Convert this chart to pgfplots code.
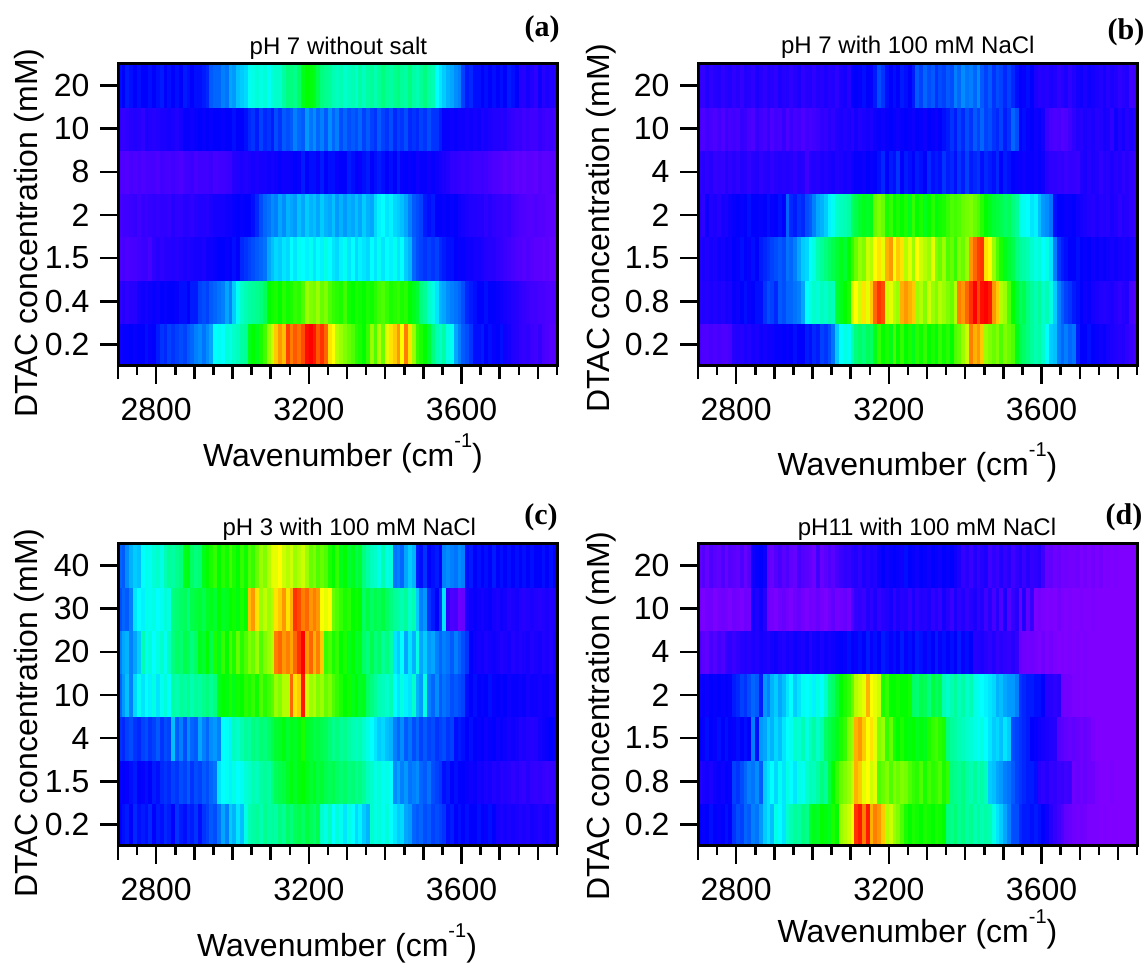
\documentclass[border=0pt]{standalone}
\usepackage{fontspec}
\usepackage{pgfplots}
\usepackage{pgfplotstable}
\pgfplotsset{compat=1.18}
\setmainfont{Liberation Sans}
\newfontfamily\tnr{Liberation Serif}

\pgfdeclareplotmark{cell}{%
  \pgfpathrectangle{\pgfpoint{-1.91pt}{-21.57pt}}{\pgfpoint{3.82pt}{43.14pt}}%
  \pgfusepathqfillstroke}

\pgfplotstableread{
wn r0 r1 r2 r3 r4 r5 r6
2705 18 13 8 9 8 13 21
2715 19 14 9 10 8 12 20
2725 19 13 8 10 7 13 22
2735 20 14 9 11 9 14 21
2745 19 14 9 12 8 15 20
2755 20 17 10 10 9 14 21
2765 20 18 11 12 8 13 20
2775 21 17 11 11 9 16 20
2785 19 18 9 12 9 15 21
2795 20 19 13 13 9 14 20
2805 22 18 14 12 8 15 21
2815 24 20 13 13 10 16 22
2825 23 19 14 13 9 16 20
2835 25 20 14 12 9 17 21
2845 24 20 15 14 10 16 20
2855 25 19 14 13 9 15 21
2865 26 21 15 13 8 17 20
2875 25 21 16 14 10 19 22
2885 27 20 15 14 10 19 21
2895 28 22 16 13 11 18 20
2905 30 22 17 14 9 19 21
2915 31 25 17 15 10 20 21
2925 29 26 16 15 10 19 22
2935 31 25 18 14 10 20 23
2945 33 27 18 16 11 19 27
2955 40 28 19 17 9 20 28
2965 41 29 20 17 10 20 28
2975 40 30 20 17 10 19 30
2985 43 33 19 18 11 20 29
2995 42 30 20 18 11 20 33
3005 44 36 21 19 14 21 32
3015 45 41 20 20 15 20 35
3025 47 44 23 19 16 20 36
3035 48 46 24 20 15 21 37
3045 58 47 25 20 16 23 41
3055 60 48 26 21 17 24 42
3065 58 49 27 23 16 22 43
3075 62 50 28 26 17 25 42
3085 65 53 29 28 17 23 43
3095 72 60 33 29 18 24 41
3105 76 61 35 31 17 22 43
3115 84 62 37 30 18 26 44
3125 88 60 36 33 19 24 44
3135 85 63 38 31 18 27 47
3145 95 61 37 34 18 26 50
3155 90 62 40 33 19 27 50
3165 93 64 38 32 20 30 49
3175 91 63 41 35 19 28 52
3185 94 66 40 33 22 27 58
3195 99 72 39 36 20 32 60
3205 100 70 41 34 21 29 59
3215 98 69 38 35 21 31 58
3225 93 72 40 33 19 28 54
3235 96 68 39 36 22 30 50
3245 92 70 42 34 20 27 49
3255 82 66 40 33 21 31 48
3265 80 64 38 35 21 28 46
3275 74 63 37 32 19 30 45
3285 72 62 39 34 20 26 46
3295 70 65 41 32 20 28 44
3305 68 61 38 34 22 26 45
3315 66 60 40 33 21 27 46
3325 63 62 37 35 20 26 44
3335 62 61 39 33 19 28 47
3345 60 60 38 36 21 25 45
3355 64 62 37 34 22 27 47
3365 72 61 40 33 20 25 48
3375 66 63 38 37 21 24 46
3385 74 65 41 39 22 27 48
3395 68 66 38 40 21 25 50
3405 78 64 40 38 20 24 48
3415 82 62 39 39 21 26 47
3425 84 63 41 37 20 23 49
3435 88 64 38 36 22 25 50
3445 80 62 40 35 19 24 48
3455 90 63 36 33 20 26 47
3465 82 60 34 30 19 23 50
3475 72 58 28 27 20 24 47
3485 64 56 26 26 18 23 46
3495 62 50 25 25 19 25 48
3505 60 48 24 22 19 24 50
3515 56 44 25 21 18 26 47
3525 50 42 24 22 19 24 46
3535 46 38 25 20 18 24 40
3545 44 34 23 20 17 22 38
3555 47 33 22 19 16 19 36
3565 42 31 21 20 15 19 34
3575 41 30 21 19 13 18 33
3585 33 29 20 20 13 19 31
3595 30 28 19 18 12 18 30
3605 27 26 19 17 11 18 25
3615 26 23 18 16 12 17 22
3625 24 22 18 15 11 18 23
3635 21 21 17 15 10 17 21
3645 21 20 17 14 10 18 21
3655 22 20 16 15 11 16 20
3665 20 21 15 13 10 17 21
3675 21 20 14 14 9 16 20
3685 19 20 14 13 8 15 21
3695 20 19 13 12 8 15 20
3705 21 18 12 12 7 14 21
3715 18 17 11 11 6 15 20
3725 17 16 10 12 7 13 22
3735 15 15 9 10 6 12 21
3745 14 14 8 9 5 11 20
3755 13 13 8 8 6 12 15
3765 12 12 7 8 5 10 14
3775 13 11 8 7 6 11 17
3785 11 10 7 7 6 10 15
3795 10 10 6 8 5 10 13
3805 12 9 6 7 7 12 18
3815 9 9 5 7 6 11 14
3825 8 8 6 6 6 10 16
3835 7 8 5 6 7 11 15
3845 7 8 5 6 7 10 15
}\tabA

\pgfplotstableread{
wn r0 r1 r2 r3 r4 r5 r6
2705 9 14 15 14 13 9 13
2715 8 15 16 13 14 8 12
2725 8 14 15 18 13 10 15
2735 9 16 17 15 14 9 13
2745 8 15 16 16 12 8 14
2755 9 16 18 14 13 10 15
2765 8 15 17 17 12 8 13
2775 8 17 19 16 15 11 14
2785 9 16 18 18 13 9 15
2795 14 19 20 19 14 10 13
2805 15 18 19 20 13 9 14
2815 14 20 21 19 15 12 12
2825 16 21 20 20 14 11 15
2835 15 19 19 21 13 9 14
2845 17 20 21 20 14 8 13
2855 16 21 20 20 15 12 16
2865 18 21 22 19 13 10 14
2875 17 24 23 20 14 9 13
2885 18 26 24 21 15 12 15
2895 18 25 25 19 13 8 14
2905 19 23 26 20 14 10 13
2915 19 27 27 21 15 9 16
2925 20 26 26 20 14 12 14
2935 19 28 29 28 15 8 15
2945 20 28 28 23 14 11 13
2955 21 29 30 22 13 9 14
2965 20 30 33 24 15 10 16
2975 20 33 36 23 14 8 13
2985 22 40 37 26 10 10 14
2995 21 42 40 27 14 9 15
3005 23 44 42 30 15 10 13
3015 22 43 46 33 14 11 15
3025 25 45 48 34 16 13 14
3035 24 44 50 36 15 12 16
3045 26 46 52 39 16 14 14
3055 29 45 54 41 17 13 15
3065 36 56 56 44 15 15 13
3075 40 58 58 45 16 16 16
3085 42 60 56 46 17 15 17
3095 41 62 60 47 16 16 14
3105 46 76 64 52 18 14 19
3115 50 80 68 54 19 17 20
3125 52 76 72 56 19 15 19
3135 50 82 70 58 18 16 21
3145 53 78 76 57 20 17 20
3155 52 84 74 58 19 16 19
3165 58 92 80 68 20 18 22
3175 64 96 82 70 21 19 26
3185 60 94 78 68 23 18 24
3195 62 76 86 62 20 19 21
3205 58 78 88 64 22 20 20
3215 66 74 80 60 21 19 21
3225 60 72 84 62 24 18 20
3235 64 86 82 60 20 19 22
3245 60 88 74 62 22 20 21
3255 62 86 78 58 21 19 20
3265 58 84 72 64 20 18 22
3275 63 72 80 60 22 20 27
3285 61 74 76 62 21 19 25
3295 64 70 74 58 20 18 28
3305 60 76 72 60 23 20 26
3315 62 72 78 63 21 19 27
3325 59 70 70 59 22 18 24
3335 64 74 68 61 21 20 26
3345 61 72 72 62 24 21 25
3355 63 70 66 64 22 22 27
3365 60 68 68 66 23 24 26
3375 66 74 64 65 21 22 30
3385 68 90 70 66 24 25 28
3395 72 88 68 68 22 23 31
3405 76 92 72 69 25 26 29
3415 90 96 88 70 22 24 30
3425 86 100 92 68 23 27 28
3435 88 94 95 66 24 25 31
3445 84 99 96 63 21 28 27
3455 72 100 82 60 23 25 25
3465 70 98 80 58 22 26 27
3475 68 88 72 56 21 24 24
3485 70 84 66 55 23 23 26
3495 66 74 62 54 20 25 25
3505 70 72 58 52 22 22 23
3515 68 66 56 53 21 24 25
3525 66 60 54 50 20 28 23
3535 58 56 50 48 19 26 21
3545 54 52 48 42 19 20 20
3555 52 54 47 41 18 21 19
3565 50 50 46 40 19 19 21
3575 48 48 44 38 19 20 20
3585 46 46 42 39 18 18 16
3595 47 48 43 35 19 19 14
3605 44 44 40 32 18 17 15
3615 40 46 42 31 14 11 14
3625 36 42 38 29 13 9 16
3635 35 36 30 21 13 8 15
3645 30 30 24 20 12 9 13
3655 28 27 22 20 13 7 14
3665 30 25 21 19 11 8 16
3675 28 24 20 19 12 10 13
3685 29 22 20 20 12 13 15
3695 22 21 21 18 11 15 17
3705 20 20 20 17 15 14 18
3715 20 18 19 16 16 16 16
3725 21 19 20 15 14 15 18
3735 20 17 18 14 16 16 17
3745 19 16 19 16 15 14 16
3755 18 15 18 14 13 15 15
3765 19 14 19 15 15 17 17
3775 17 15 18 14 14 16 14
3785 16 16 17 16 16 13 16
3795 15 14 18 15 14 18 15
3805 14 13 17 13 15 15 13
3815 15 14 16 15 13 17 14
3825 13 15 17 14 14 14 15
3835 11 9 16 13 13 16 10
3845 10 8 15 12 12 15 11
}\tabB

\pgfplotstableread{
wn r0 r1 r2 r3 r4 r5 r6
2705 20 19 24 28 30 26 28
2715 21 20 23 32 33 28 27
2725 22 19 25 35 34 27 31
2735 20 21 26 30 30 30 34
2745 23 22 24 37 33 38 36
2755 21 20 23 41 36 40 35
2765 22 19 25 38 46 39 40
2775 21 21 26 40 41 42 42
2785 23 20 24 39 43 41 41
2795 20 22 25 42 40 42 43
2805 22 21 27 38 42 40 44
2815 21 23 24 41 44 41 42
2825 23 24 26 43 41 43 46
2835 22 23 25 40 45 42 48
2845 20 25 35 47 50 50 47
2855 24 24 27 46 52 51 49
2865 22 26 30 48 51 52 50
2875 21 25 26 47 54 53 58
2885 23 27 31 49 53 50 59
2895 22 24 28 46 50 54 52
2905 24 26 27 48 52 55 50
2915 21 25 33 47 58 56 51
2925 24 27 30 49 56 54 58
2935 25 26 28 50 60 57 60
2945 27 28 31 48 54 58 62
2955 26 29 32 50 62 56 64
2965 29 38 30 58 58 60 60
2975 33 40 40 60 64 57 63
2985 30 41 41 59 60 58 61
2995 36 39 39 62 66 60 65
3005 34 42 45 58 62 61 62
3015 38 40 44 61 68 59 60
3025 35 41 46 60 63 62 64
3035 42 43 48 63 66 60 61
3045 46 44 47 62 70 85 66
3055 47 46 50 64 68 88 64
3065 48 45 49 61 72 82 68
3075 46 47 51 66 66 72 72
3085 49 48 50 63 70 75 70
3095 47 47 52 65 72 72 74
3105 48 50 54 67 74 74 78
3115 47 53 56 72 90 82 78
3125 50 54 57 70 92 84 80
3135 48 55 59 74 88 88 76
3145 52 57 56 74 90 82 74
3155 50 59 58 92 87 86 76
3165 53 57 57 82 92 96 72
3175 54 59 59 84 96 94 74
3185 52 60 62 98 100 90 76
3195 55 58 57 76 88 92 72
3205 53 56 56 72 92 88 68
3215 51 58 54 74 86 90 70
3225 54 55 55 70 90 88 66
3235 44 56 54 72 84 80 68
3245 42 54 53 68 64 78 66
3255 45 53 51 70 66 80 62
3265 40 54 49 66 62 68 60
3275 43 52 50 64 64 66 64
3285 41 51 48 62 60 64 58
3295 38 52 49 60 62 62 60
3305 42 50 47 61 58 63 56
3315 40 51 46 58 60 60 58
3325 37 49 45 60 56 61 54
3335 39 50 46 57 58 60 56
3345 36 48 44 58 52 52 50
3355 34 45 42 52 50 55 47
3365 44 44 40 50 54 52 45
3375 42 42 38 48 50 54 44
3385 43 43 36 46 52 53 42
3395 41 41 37 45 48 55 46
3405 43 42 35 44 50 52 42
3415 40 40 34 46 47 50 43
3425 38 31 30 40 38 48 29
3435 36 33 28 38 36 47 30
3445 37 30 31 42 40 46 28
3455 33 32 27 39 33 48 33
3465 32 29 29 38 38 44 36
3475 28 30 26 44 34 46 34
3485 27 31 28 34 42 36 22
3495 28 28 25 32 33 30 21
3505 26 27 27 42 36 32 24
3515 27 29 25 30 32 24 20
3525 25 26 26 28 33 22 21
3535 26 25 24 31 30 20 22
3545 25 24 25 27 28 24 20
3555 24 21 26 29 30 38 30
3565 21 22 24 28 29 12 31
3575 22 20 25 26 27 8 30
3585 20 21 21 27 30 9 29
3595 21 20 22 26 28 3 31
3605 20 20 21 25 26 4 30
3615 21 19 20 21 24 16 21
3625 20 18 21 20 20 18 22
3635 20 19 20 21 18 19 20
3645 21 17 19 20 17 18 21
3655 20 18 20 19 18 17 20
3665 19 16 18 20 16 18 21
3675 21 17 19 21 17 19 20
3685 20 15 20 19 18 17 22
3695 17 16 18 20 17 16 20
3705 16 14 19 19 15 18 21
3715 17 15 18 20 16 17 20
3725 16 14 17 18 17 15 21
3735 17 13 18 19 15 16 20
3745 16 14 17 19 16 17 21
3755 15 13 15 18 15 15 20
3765 16 12 16 19 16 14 21
3775 15 14 15 17 17 15 20
3785 17 13 14 18 15 16 21
3795 16 12 15 18 16 15 20
3805 15 13 17 17 17 14 20
3815 16 12 18 18 15 15 21
3825 17 11 19 18 16 16 20
3835 15 12 20 17 15 15 21
3845 16 13 19 18 17 16 20
}\tabC

\pgfplotstableread{
wn r0 r1 r2 r3 r4 r5 r6
2705 20 15 20 18 8 2 5
2715 19 16 19 19 6 1 7
2725 20 17 21 18 5 2 4
2735 21 16 20 20 9 3 8
2745 20 18 19 19 7 1 6
2755 19 19 21 20 10 2 5
2765 20 18 20 19 8 3 8
2775 21 20 21 20 12 2 4
2785 20 19 20 19 13 1 7
2795 24 25 19 22 11 3 6
2805 26 24 21 23 13 2 5
2815 25 26 20 25 14 1 8
2825 28 28 21 24 15 3 4
2835 27 30 20 26 14 2 7
2845 30 29 30 28 16 17 18
2855 29 31 21 27 15 15 19
2865 32 27 32 22 17 18 20
2875 36 36 33 32 16 14 18
2885 38 38 36 30 15 3 5
2895 35 40 34 34 17 2 4
2905 42 37 37 36 18 1 7
2915 40 41 35 33 16 3 9
2925 38 38 38 35 15 4 6
2935 44 42 40 38 17 2 8
2945 46 40 41 40 16 1 5
2955 48 38 44 36 18 3 4
2965 47 42 43 38 17 4 9
2975 50 41 46 41 16 2 7
2985 49 44 42 40 18 1 6
2995 56 46 45 42 15 3 5
3005 58 45 47 39 17 2 3
3015 57 47 44 42 18 4 10
3025 60 50 46 40 16 2 4
3035 59 48 52 44 18 1 6
3045 58 55 54 50 17 3 8
3055 62 60 56 52 18 5 6
3065 60 64 58 56 19 2 9
3075 72 68 62 60 20 3 11
3085 74 70 64 62 19 4 13
3095 76 72 70 64 21 2 12
3105 80 75 72 68 20 8 14
3115 96 86 86 74 19 12 15
3125 98 84 88 76 21 13 13
3135 90 78 84 78 20 11 16
3145 98 80 80 86 22 15 14
3155 86 76 82 80 19 13 16
3165 90 78 78 78 21 16 15
3175 88 66 70 76 20 12 18
3185 84 68 72 62 22 14 20
3195 74 70 64 64 21 15 18
3205 76 66 68 60 19 17 19
3215 72 70 62 60 21 13 20
3225 70 68 60 61 20 16 19
3235 66 70 62 60 22 14 18
3245 62 69 60 60 19 15 21
3255 60 66 59 61 21 12 20
3265 62 64 60 52 20 16 19
3275 61 63 58 51 22 13 18
3285 60 66 59 54 21 15 20
3295 62 62 58 53 19 14 19
3305 61 65 62 50 21 16 18
3315 60 63 64 55 20 13 20
3325 62 64 65 52 22 15 19
3335 61 66 63 54 19 12 18
3345 60 62 62 46 21 17 20
3355 50 64 50 44 20 14 19
3365 49 50 48 46 21 11 20
3375 51 49 47 48 20 16 18
3385 48 48 46 45 22 13 16
3395 50 50 45 47 19 15 12
3405 47 47 44 44 21 12 14
3415 49 46 43 46 20 14 11
3425 46 48 42 42 14 16 15
3435 48 45 41 41 15 13 12
3445 46 47 42 40 16 15 14
3455 47 45 40 39 14 10 16
3465 46 36 38 38 13 14 10
3475 42 35 36 37 15 9 13
3485 38 33 37 34 12 14 11
3495 36 32 35 35 14 8 15
3505 33 30 38 33 13 16 12
3515 30 29 36 32 12 7 14
3525 26 27 26 32 14 12 10
3535 26 25 25 30 12 14 13
3545 23 24 24 24 4 4 15
3555 22 23 23 23 3 15 11
3565 22 22 22 22 2 5 14
3575 21 22 20 22 3 12 12
3585 22 21 19 21 2 1 13
3595 21 14 18 21 1 2 14
3605 20 13 17 20 3 1 10
3615 18 14 16 14 1 0 4
3625 14 12 15 14 2 1 5
3635 12 13 14 13 1 0 3
3645 10 11 7 14 0 2 4
3655 8 12 6 3 1 1 2
3665 5 10 5 2 0 0 3
3675 4 11 4 2 1 1 2
3685 3 3 5 1 0 0 2
3695 2 4 4 1 1 0 3
3705 3 3 3 0 0 1 1
3715 2 4 4 1 1 0 2
3725 1 3 3 0 0 0 1
3735 1 3 1 0 0 1 2
3745 1 1 0 0 0 0 1
3755 0 0 0 0 0 0 2
3765 1 0 0 0 0 0 0
3775 0 0 0 0 0 0 1
3785 0 1 0 0 0 0 0
3795 0 0 0 0 0 0 1
3805 0 0 0 0 0 0 0
3815 0 0 0 0 0 0 0
3825 0 0 0 0 0 0 0
3835 0 0 0 0 0 0 0
3845 0 0 0 0 0 0 0
}\tabD

\pgfplotsset{
  /pgf/number format/assume math mode=true,
  /pgf/number format/1000 sep={},
  colormap={igor}{rgb255(0)=(128,0,255) rgb255(1)=(0,0,255) rgb255(2)=(0,255,255) rgb255(3)=(0,255,0) rgb255(4)=(255,255,0) rgb255(5)=(255,0,0)},
  heat/.style={
    scale only axis, width=439pt, height=302pt, anchor=south west,
    xmin=2700, xmax=3850, ymin=-0.5, ymax=6.5,
    axis on top, clip marker paths=true, axis line style={line width=2.5pt},
    point meta min=0, point meta max=100,
    xtick={2800,3200,3600},
    minor xtick={2750,2850,2950,3050,3150,3250,3350,3450,3550,3650,3750,3850},
    extra x ticks={2700,2900,3000,3100,3300,3400,3500,3700,3800},
    extra x tick labels={},
    extra x tick style={major tick length=13.5pt},
    ytick={0,1,2,3,4,5,6},
    xtick pos=bottom, ytick pos=left, tick align=outside,
    major tick length=18pt, minor tick length=9pt,
    every tick/.append style={line width=2.5pt,black},
    tick style={line width=2.5pt,black},
    major tick style={line width=2.5pt,black},
    minor tick style={line width=2.5pt,black},
    tick label style={font=\fontsize{32}{36}\selectfont},
    xticklabel style={yshift=-11pt},
    yticklabel style={xshift=-7pt},
    scatter/use mapped color={draw=mapped color,fill=mapped color},
  },
  lab/.style n args={6}{
    every axis x label/.style={at={(axis description cs:#1,#2)},anchor=base,font=\fontsize{32}{36}\selectfont},
    every axis y label/.style={at={(axis description cs:#3,#4)},rotate=90,anchor=base,font=\fontsize{32}{36}\selectfont},
    every axis title/.style={at={(axis description cs:#5,#6)},anchor=base,font=\fontsize{24}{28}\selectfont},
    xlabel={Wavenumber (cm\raisebox{19pt}{\fontsize{20}{24}\selectfont -1})},
    ylabel={DTAC concentration (mM)},
  },
}

\newcommand{\rows}[1]{%
  \pgfplotsinvokeforeach{0,...,6}{%
    \addplot[scatter, only marks, mark=cell, mark options={line width=0.3pt},
      point meta=\thisrow{r##1}] table[x=wn, y expr=##1] {#1};
  }%
}
% frame of a panel as four filled bars: #1,#2 = lower left corner in pt
\newcommand{\frm}[2]{%
  \fill[black] (#1pt-1.5pt,#2pt-1.5pt) rectangle (#1pt+440.5pt,#2pt+1.5pt);
  \fill[black] (#1pt-1.5pt,#2pt+300.5pt) rectangle (#1pt+440.5pt,#2pt+303.5pt);
  \fill[black] (#1pt-1.5pt,#2pt-1.5pt) rectangle (#1pt+1.5pt,#2pt+303.5pt);
  \fill[black] (#1pt+437.5pt,#2pt-1.5pt) rectangle (#1pt+440.5pt,#2pt+303.5pt);
}

\begin{document}
\begin{tikzpicture}
\path[use as bounding box] (0pt,0pt) rectangle (1144pt,962pt);

\begin{axis}[heat, name=A, at={(118pt,596pt)}, lab={0.5125}{-0.334}{-0.183}{0.44}{0.502}{1.030},
  title={pH 7 without salt}, yticklabels={0.2,0.4,1.5,2,8,10,20}]
\rows{\tabA}
\end{axis}

\begin{axis}[heat, name=B, at={(698pt,596pt)}, lab={0.5}{-0.361}{-0.201}{0.457}{0.478}{1.0354},
  title={pH 7 with 100 mM NaCl}, yticklabels={0.2,0.8,1.5,2,4,10,20}]
\rows{\tabB}
\end{axis}

\begin{axis}[heat, name=C, at={(118pt,116pt)}, lab={0.499}{-0.3675}{-0.183}{0.44}{0.527}{1.0265},
  title={pH 3 with 100 mM NaCl}, yticklabels={0.2,1.5,4,10,20,30,40}]
\rows{\tabC}
\end{axis}

\begin{axis}[heat, name=D, at={(698pt,116pt)}, lab={0.5}{-0.318}{-0.201}{0.43}{0.5216}{1.0265},
  title={pH11 with 100 mM NaCl}, yticklabels={0.2,0.8,1.5,2,4,10,20}]
\rows{\tabD}
\end{axis}

\frm{118}{596}
\frm{698}{596}
\frm{118}{116}
\frm{698}{116}

\node[anchor=base,font=\tnr\bfseries\fontsize{30}{32}\selectfont] at (542pt,925pt) {(a)};
\node[anchor=base,font=\tnr\bfseries\fontsize{30}{32}\selectfont] at (1126pt,922pt) {(b)};
\node[anchor=base,font=\tnr\bfseries\fontsize{30}{32}\selectfont] at (541pt,437pt) {(c)};
\node[anchor=base,font=\tnr\bfseries\fontsize{30}{32}\selectfont] at (1124pt,437pt) {(d)};
\end{tikzpicture}
\end{document}
